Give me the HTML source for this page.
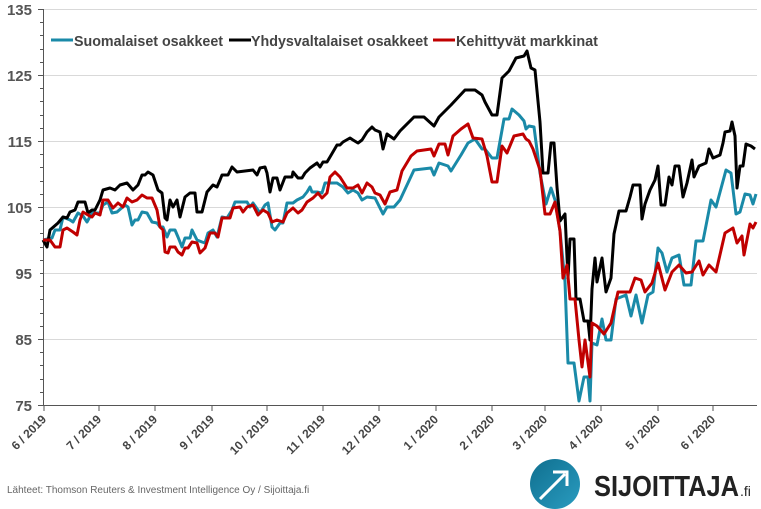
<!DOCTYPE html>
<html><head><meta charset="utf-8"><style>
body{margin:0;background:#fff;}
svg{display:block;font-family:"Liberation Sans",sans-serif;}
</style></head><body>
<svg width="761" height="509" viewBox="0 0 761 509">
<g stroke="#d9d9d9" stroke-width="1">
<line x1="43" y1="9.5" x2="757" y2="9.5"/>
<line x1="43" y1="75.5" x2="757" y2="75.5"/>
<line x1="43" y1="141.5" x2="757" y2="141.5"/>
<line x1="43" y1="207.5" x2="757" y2="207.5"/>
<line x1="43" y1="273.5" x2="757" y2="273.5"/>
<line x1="43" y1="339.5" x2="757" y2="339.5"/>
</g>
<g stroke="#555" stroke-width="1">
<line x1="43.5" y1="9" x2="43.5" y2="405"/>
<line x1="43" y1="405.5" x2="757" y2="405.5"/>
<path d="M38 9.5H43M40 22.5H43M40 35.5H43M40 49.5H43M40 62.5H43M38 75.5H43M40 88.5H43M40 101.5H43M40 115.5H43M40 128.5H43M38 141.5H43M40 154.5H43M40 167.5H43M40 181.5H43M40 194.5H43M38 207.5H43M40 220.5H43M40 233.5H43M40 247.5H43M40 260.5H43M40 273.5H43M40 286.5H43M40 299.5H43M40 313.5H43M40 326.5H43M38 339.5H43M40 352.5H43M40 365.5H43M40 379.5H43M40 392.5H43M38 405.5H43"/>
<path d="M44 405v6M99 405v6M155 405v6M212 405v6M267 405v6M323 405v6M379 405v6M436 405v6M492 405v6M545 405v6M601 405v6M658 405v6M713 405v6"/>
</g>
<g font-size="15" font-weight="bold" fill="#555" text-anchor="end">
<text x="32" y="15">135</text><text x="32" y="81">125</text><text x="32" y="147">115</text>
<text x="32" y="213">105</text><text x="32" y="279">95</text><text x="32" y="345">85</text><text x="32" y="411">75</text>
</g>
<g font-size="12" font-weight="bold" fill="#444" text-anchor="end">
<text transform="translate(47,420) rotate(-45)">6 / 2019</text>
<text transform="translate(102,420) rotate(-45)">7 / 2019</text>
<text transform="translate(158,420) rotate(-45)">8 / 2019</text>
<text transform="translate(215,420) rotate(-45)">9 / 2019</text>
<text transform="translate(270,420) rotate(-45)">10 / 2019</text>
<text transform="translate(326,420) rotate(-45)">11 / 2019</text>
<text transform="translate(382,420) rotate(-45)">12 / 2019</text>
<text transform="translate(439,420) rotate(-45)">1 / 2020</text>
<text transform="translate(495,420) rotate(-45)">2 / 2020</text>
<text transform="translate(548,420) rotate(-45)">3 / 2020</text>
<text transform="translate(604,420) rotate(-45)">4 / 2020</text>
<text transform="translate(661,420) rotate(-45)">5 / 2020</text>
<text transform="translate(716,420) rotate(-45)">6 / 2020</text>
</g>
<g fill="none" stroke-width="3" stroke-linejoin="round">
<polyline stroke="#1a8aa8" points="43,240 52,238 55,230 60,230 63,217 70,220 73,222 78,213 83,216 87,222 92,213 100,213 103,205 108,202 112,213 117,212 125,205 128,207 132,225 135,220 138,220 142,212 147,213 152,222 157,223 160,227 163,227 167,237 170,230 175,230 178,237 182,247 185,238 190,238 192,230 197,240 202,242 205,243 208,233 213,230 217,237 222,217 227,218 232,210 235,202 247,202 250,207 253,203 260,213 265,205 268,203 272,227 275,230 280,223 283,223 287,203 293,203 297,200 303,197 307,192 310,187 312,192 317,192 322,193 325,183 337,183 343,187 348,193 353,190 358,193 362,200 367,197 375,198 383,214 387,207 394,207 400,200 407,185 414,170 431,168 434,175 439,163 448,166 451,171 461,155 468,143 475,139 482,149 485,149 492,158 497,158 504,119 509,119 512,109 519,115 524,121 526,129 529,126 534,127 540,173 546,204 551,188 555,200 560,231 565,282 568,363 574,363 579,401 584,377 588,377 590,401 592,343 597,345 602,319 606,340 611,340 616,299 626,295 631,316 636,295 642,323 648,295 653,292 658,248 662,253 667,272 672,258 679,255 684,285 691,285 696,241 703,241 711,200 716,207 726,170 731,173 736,214 740,212 745,194 750,195 753,204 756,194"/>
<polyline stroke="#000" points="43,240 47,247 50,230 58,223 63,217 67,218 70,212 75,210 78,202 85,202 88,213 92,210 95,210 100,200 103,190 110,188 115,190 120,185 127,183 133,190 138,185 142,175 145,175 148,172 153,175 158,190 162,193 165,218 167,220 170,200 173,207 177,200 180,217 185,197 190,193 195,193 197,212 202,212 207,192 213,185 217,187 220,180 222,175 228,175 232,167 237,172 253,170 257,175 260,168 265,167 267,173 270,192 273,178 277,178 280,190 285,177 292,177 293,172 298,178 302,178 305,173 310,168 317,163 320,167 323,162 327,162 330,157 337,145 340,145 343,142 350,138 353,140 358,143 362,140 367,132 372,127 375,130 380,132 383,149 387,134 394,139 400,131 414,117 424,117 434,126 439,117 451,105 465,90 475,90 482,95 485,102 492,115 497,115 502,78 509,71 516,58 524,56 527,51 531,68 535,70 540,122 543,173 548,173 551,143 554,143 557,187 560,221 565,214 568,278 570,239 574,239 576,299 580,299 584,321 588,321 590,340 592,289 595,258 597,282 602,258 606,292 611,278 614,234 619,211 626,211 630,197 633,185 640,185 642,219 645,204 650,190 655,180 658,166 661,205 665,205 669,177 672,185 675,166 679,166 683,197 687,183 692,160 694,177 699,166 706,163 709,149 713,158 720,155 723,143 725,132 730,131 732,122 735,136 737,188 740,166 743,166 746,144 751,146 755,149"/>
<polyline stroke="#c00000" points="43,240 50,240 55,247 60,247 63,230 67,228 73,232 77,235 80,220 83,212 88,215 92,217 95,213 100,215 103,200 108,200 113,208 118,203 123,207 127,198 132,202 137,200 142,195 147,198 152,198 157,210 160,227 163,230 165,252 168,253 170,247 175,247 178,252 182,255 185,248 188,248 192,242 197,243 200,253 205,248 210,233 215,233 218,237 222,218 230,218 233,208 240,207 243,212 247,207 253,205 258,215 263,210 268,213 272,222 277,220 283,222 287,213 293,208 298,213 302,210 307,202 313,198 318,193 322,198 327,193 330,177 335,172 340,177 347,188 353,188 358,185 362,193 367,183 372,187 375,193 380,195 385,204 390,192 397,190 402,171 411,156 417,151 431,149 434,156 439,144 445,144 448,155 453,136 461,129 468,124 473,138 482,139 487,156 492,182 497,182 502,146 507,153 514,136 523,134 526,139 529,141 533,149 540,170 545,214 550,214 555,202 560,231 563,278 567,265 570,299 575,299 579,340 582,367 585,340 590,377 592,323 597,326 604,334 611,323 618,292 630,292 635,278 641,280 645,292 652,283 658,263 665,290 672,272 679,265 686,273 692,272 699,261 703,275 709,265 716,272 725,233 733,228 737,243 742,236 744,255 750,224 753,228 756,222"/>
</g>
<g stroke-width="3">
<line x1="51" y1="40" x2="73" y2="40" stroke="#1a8aa8"/>
<line x1="229" y1="40" x2="251" y2="40" stroke="#000"/>
<line x1="433" y1="40" x2="455" y2="40" stroke="#c00000"/>
</g>
<g font-size="15" font-weight="bold" fill="#444" lengthAdjust="spacingAndGlyphs">
<text x="74" y="46" textLength="149" lengthAdjust="spacingAndGlyphs">Suomalaiset osakkeet</text>
<text x="251" y="46" textLength="177" lengthAdjust="spacingAndGlyphs">Yhdysvaltalaiset osakkeet</text>
<text x="456" y="46" textLength="142" lengthAdjust="spacingAndGlyphs">Kehittyvät markkinat</text>
</g>
<text x="7" y="493" font-size="10" fill="#666">Lähteet: Thomson Reuters &amp; Investment Intelligence Oy / Sijoittaja.fi</text>
<defs><linearGradient id="g" x1="0" y1="0" x2="1" y2="1"><stop offset="0" stop-color="#0f6f8f"/><stop offset="1" stop-color="#2a9cc0"/></linearGradient></defs>
<circle cx="555" cy="484" r="25" fill="url(#g)"/>
<path d="M540 499L565 474M553 472H567V486" stroke="#fff" stroke-width="3" fill="none"/>
<text x="594" y="496" font-size="29" font-weight="bold" fill="#222" textLength="145" lengthAdjust="spacingAndGlyphs">SIJOITTAJA</text>
<text x="740" y="496" font-size="14" fill="#222">.fi</text>
</svg>
</body></html>
